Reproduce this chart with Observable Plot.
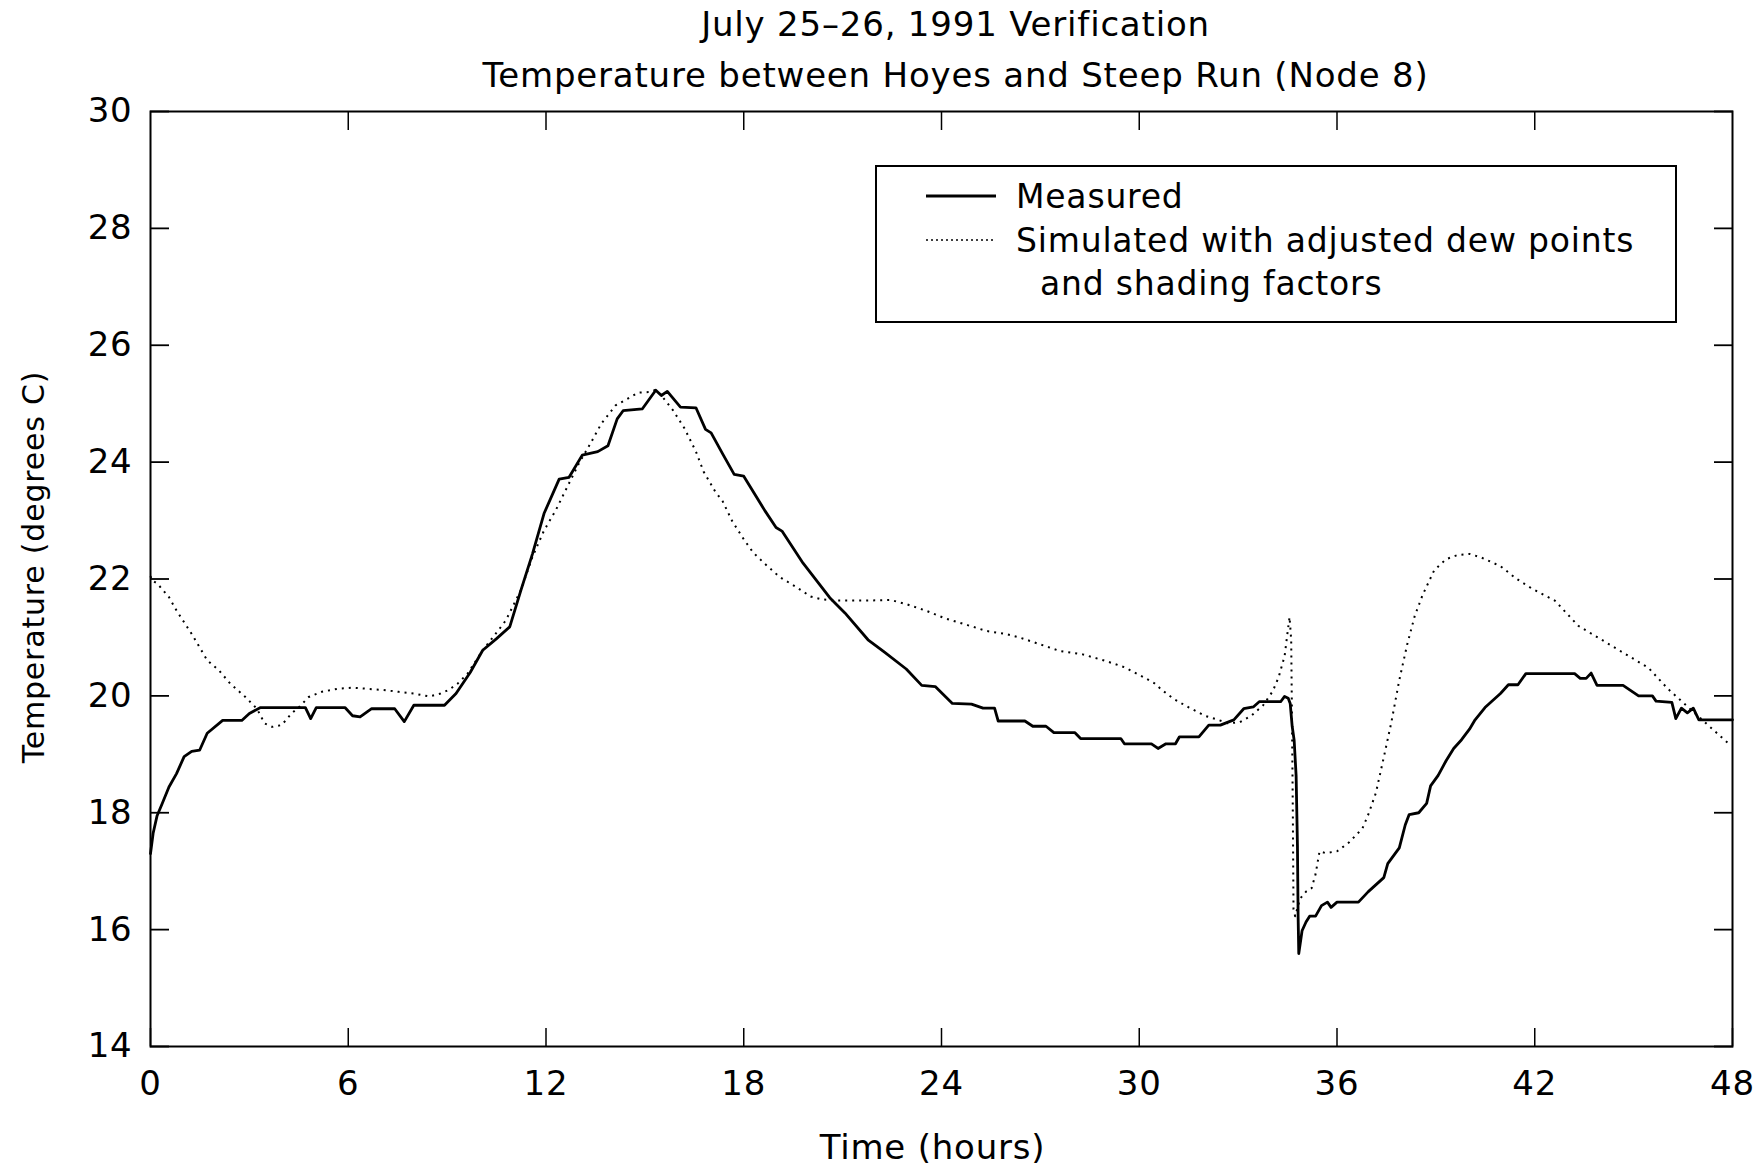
<!DOCTYPE html>
<html>
<head>
<meta charset="utf-8">
<script src="https://cdn.jsdelivr.net/npm/d3@7"></script>
<script src="https://cdn.jsdelivr.net/npm/@observablehq/plot@0.6"></script>
<style>
  html, body { margin: 0; padding: 0; background: #fff; }
  #wrap { position: relative; width: 1760px; height: 1168px; overflow: hidden; }
  #wrap svg text { letter-spacing: 0.8px; }
  #legend { position: absolute; left: 875px; top: 165px; }
</style>
</head>
<body>
<div id="wrap"></div>
<script>
// ---------- data ----------
const titleLine1 = "July 25–26, 1991 Verification";
const titleLine2 = "Temperature between Hoyes and Steep Run (Node 8)";
const xLabel = "Time (hours)";
const yLabel = "Temperature (degrees C)";
const seriesNames = ["Measured", "Simulated with adjusted dew points", "and shading factors"];
const xTicks = [0, 6, 12, 18, 24, 30, 36, 42, 48];
const yTicks = [14, 16, 18, 20, 22, 24, 26, 28, 30];

const measuredHours = [0.00,0.08,0.20,0.35,0.56,0.79,1.02,1.25,1.49,1.72,2.19,2.77,3.00,3.34,4.39,4.70,4.86,5.03,5.90,6.13,6.36,6.71,7.41,7.70,7.99,8.92,9.27,9.70,10.08,10.50,10.90,11.24,11.59,11.94,12.40,12.70,13.10,13.57,13.88,14.16,14.34,14.92,15.33,15.50,15.68,16.08,16.55,16.84,17.01,17.36,17.71,18.00,18.64,18.98,19.16,19.80,20.61,21.07,21.77,22.24,22.93,23.40,23.81,24.33,24.91,25.26,25.61,25.72,26.53,26.77,27.17,27.41,28.05,28.22,29.44,29.55,30.37,30.57,30.81,31.10,31.22,31.81,32.11,32.46,32.87,33.17,33.46,33.64,34.29,34.41,34.52,34.58,34.64,34.70,34.76,34.80,34.82,34.84,34.94,35.06,35.17,35.35,35.53,35.71,35.82,36.00,36.65,36.95,37.42,37.54,37.89,38.07,38.19,38.48,38.72,38.84,39.07,39.31,39.54,39.78,40.02,40.19,40.49,40.96,41.20,41.49,41.73,43.21,43.38,43.56,43.71,43.89,44.68,45.15,45.57,45.68,46.16,46.28,46.45,46.63,46.81,46.98,48.00];
const measuredTemps = [17.30,17.65,17.95,18.15,18.44,18.67,18.96,19.05,19.07,19.36,19.58,19.58,19.70,19.80,19.80,19.80,19.61,19.80,19.80,19.66,19.64,19.78,19.78,19.56,19.84,19.84,20.04,20.40,20.78,20.98,21.18,21.81,22.43,23.12,23.71,23.74,24.12,24.18,24.28,24.74,24.88,24.91,25.23,25.14,25.21,24.94,24.93,24.56,24.50,24.14,23.79,23.76,23.17,22.88,22.82,22.27,21.68,21.42,20.96,20.76,20.46,20.18,20.16,19.87,19.86,19.79,19.79,19.57,19.57,19.48,19.48,19.37,19.37,19.27,19.27,19.18,19.18,19.10,19.18,19.18,19.30,19.30,19.50,19.50,19.59,19.78,19.81,19.90,19.90,19.99,19.96,19.87,19.48,19.24,18.63,17.43,16.23,15.59,15.98,16.13,16.23,16.23,16.41,16.47,16.38,16.47,16.47,16.65,16.89,17.13,17.40,17.79,17.97,18.00,18.16,18.46,18.64,18.89,19.10,19.25,19.43,19.59,19.80,20.04,20.19,20.19,20.38,20.38,20.30,20.30,20.39,20.18,20.18,20.00,20.00,19.91,19.89,19.61,19.79,19.71,19.79,19.59,19.59];

const simulatedHours = [0.00,0.04,0.21,0.56,0.79,1.25,1.72,2.07,2.42,2.88,3.23,3.46,3.69,3.98,4.28,4.51,4.80,5.20,5.67,6.13,6.60,7.06,7.53,7.99,8.46,8.80,9.04,9.32,9.62,10.08,10.55,10.78,11.24,11.59,11.94,12.29,12.64,12.99,13.34,13.68,14.11,14.46,14.80,15.15,15.33,15.50,15.85,16.20,16.55,16.78,17.13,17.36,17.65,18.00,18.29,18.64,19.10,19.57,20.03,20.38,20.84,21.54,22.47,22.93,23.52,24.09,24.79,25.37,25.95,26.42,27.00,27.58,28.28,28.97,29.55,30.13,30.45,30.69,31.04,31.51,31.99,32.34,32.69,33.05,33.40,33.76,34.05,34.23,34.41,34.49,34.56,34.61,34.63,34.66,34.68,34.73,34.88,35.06,35.23,35.35,35.47,35.65,36.00,36.36,36.77,36.95,37.18,37.42,37.65,37.89,38.13,38.36,38.60,38.95,39.31,39.66,40.02,40.37,40.96,41.43,41.90,42.61,43.32,44.03,44.74,45.45,46.04,46.63,47.10,47.69,47.95];
const simulatedTemps = [22.05,21.98,21.92,21.69,21.46,21.06,20.61,20.44,20.21,19.98,19.78,19.53,19.47,19.50,19.70,19.81,19.98,20.07,20.12,20.14,20.12,20.10,20.07,20.04,19.99,20.04,20.10,20.21,20.38,20.78,21.12,21.29,21.81,22.38,22.83,23.17,23.57,23.97,24.31,24.66,24.97,25.08,25.19,25.20,25.24,25.14,24.89,24.58,24.18,23.84,23.50,23.33,22.99,22.68,22.45,22.26,22.03,21.87,21.70,21.65,21.63,21.63,21.64,21.57,21.46,21.33,21.21,21.11,21.06,20.99,20.88,20.77,20.71,20.60,20.49,20.32,20.22,20.10,19.95,19.80,19.66,19.60,19.53,19.55,19.66,19.84,20.08,20.32,20.68,21.04,21.35,20.96,19.84,17.99,16.35,16.23,16.53,16.65,16.71,16.95,17.34,17.31,17.34,17.49,17.73,17.97,18.34,18.95,19.55,20.27,20.88,21.37,21.73,22.15,22.34,22.41,22.43,22.37,22.22,22.01,21.84,21.63,21.20,20.96,20.72,20.48,20.12,19.82,19.58,19.28,19.15];

// ---------- build ----------
const measured = measuredHours.map((h, i) => ({h, t: measuredTemps[i]}));
const simulated = simulatedHours.map((h, i) => ({h, t: simulatedTemps[i]}));

const FS = 34;
const font = "'DejaVu Sans', 'Liberation Sans', sans-serif";

const chart = Plot.plot({
  width: 1760,
  height: 1168,
  marginTop: 111,
  marginBottom: 122,
  marginLeft: 150,
  marginRight: 28,
  style: {fontFamily: font, fontSize: FS + "px", color: "#000", background: "#fff"},
  x: {domain: [0, 48]},
  y: {domain: [14, 30]},
  marks: [
    Plot.frame({stroke: "#000", strokeWidth: 2}),
    Plot.axisX({anchor: "bottom", ticks: xTicks, tickSize: -18, tickPadding: 42, fontSize: FS, label: null, strokeWidth: 1.5}),
    Plot.axisX({anchor: "top", ticks: xTicks.slice(1, -1), tickSize: -18, tickFormat: () => "", label: null, strokeWidth: 1.5}),
    Plot.axisY({anchor: "left", ticks: yTicks, tickSize: -19, tickPadding: 37, fontSize: FS, label: null, strokeWidth: 1.8}),
    Plot.axisY({anchor: "right", ticks: yTicks, tickSize: -19, tickFormat: () => "", label: null, strokeWidth: 1.8}),
    Plot.line(simulated, {x: "h", y: "t", stroke: "#000", strokeWidth: 2, strokeDasharray: "2,5", strokeLinecap: "butt"}),
    Plot.line(measured, {x: "h", y: "t", stroke: "#000", strokeWidth: 2.8}),
    Plot.text([titleLine1], {frameAnchor: "top", lineAnchor: "middle", textAnchor: "middle", dx: 14, dy: -86, fontSize: FS}),
    Plot.text([titleLine2], {frameAnchor: "top", lineAnchor: "middle", textAnchor: "middle", dx: 14, dy: -35, fontSize: FS}),
    Plot.text([xLabel], {frameAnchor: "bottom", lineAnchor: "middle", textAnchor: "middle", dx: -9, dy: 102, fontSize: FS}),
    Plot.text([yLabel], {frameAnchor: "left", lineAnchor: "middle", textAnchor: "middle", dx: -116, dy: -12, rotate: -90, fontSize: 30})
  ]
});
document.getElementById("wrap").appendChild(chart);

// legend (HTML overlay with an inline svg)
const lw = 802, lh = 158;
const leg = d3.select("#wrap").append("svg")
  .attr("id", "legend").attr("width", lw).attr("height", lh)
  .style("font-family", font).style("font-size", "33px");
leg.append("rect").attr("x", 1).attr("y", 1).attr("width", lw - 2).attr("height", lh - 2)
  .attr("fill", "#fff").attr("stroke", "#000").attr("stroke-width", 2);
leg.append("line").attr("x1", 51).attr("x2", 121).attr("y1", 31).attr("y2", 31)
  .attr("stroke", "#000").attr("stroke-width", 2.8);
leg.append("line").attr("x1", 51).attr("x2", 121).attr("y1", 75).attr("y2", 75)
  .attr("stroke", "#000").attr("stroke-width", 1.5).attr("stroke-dasharray", "2,3");
leg.append("text").attr("x", 141).attr("y", 31).attr("dy", "0.35em").attr("letter-spacing", "0.8px").text(seriesNames[0]);
leg.append("text").attr("x", 141).attr("y", 75).attr("dy", "0.35em").attr("letter-spacing", "0.8px").text(seriesNames[1]);
leg.append("text").attr("x", 165).attr("y", 118).attr("dy", "0.35em").attr("letter-spacing", "0.8px").text(seriesNames[2]);
</script>
</body>
</html>
